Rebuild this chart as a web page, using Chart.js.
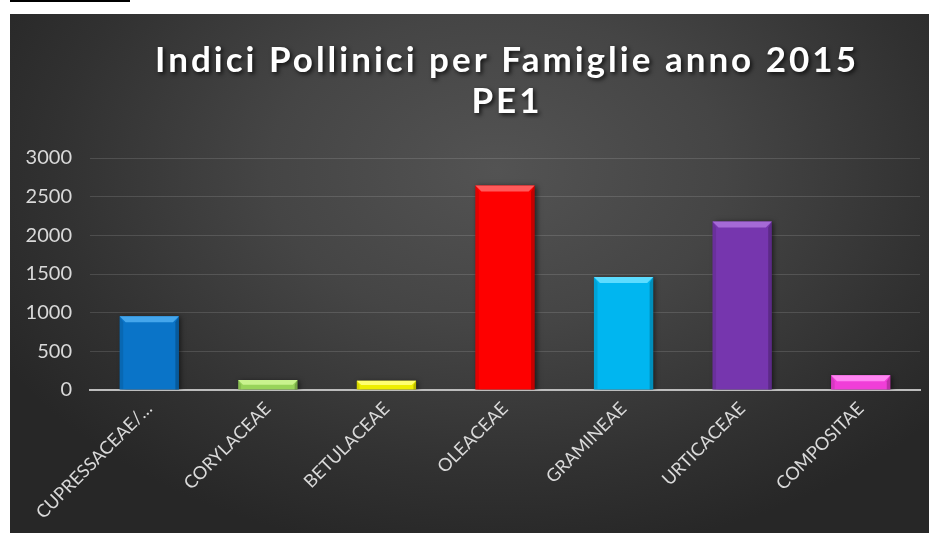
<!DOCTYPE html>
<html>
<head>
<meta charset="utf-8">
<script src="https://cdn.jsdelivr.net/npm/chart.js@4.4.1/dist/chart.umd.min.js"></script>
<style>
  html, body { margin: 0; padding: 0; background: #ffffff; }
  body { width: 929px; height: 533px; position: relative; overflow: hidden; }
  #rule { position: absolute; left: 10px; top: 0; width: 120px; height: 2px; background: #000; }
  #panel {
    position: absolute; left: 10px; top: 14px; width: 919px; height: 519px;
    background: radial-gradient(ellipse 62% 75% at 53% 30%, #535353 0%, #454545 40%, #313131 78%, #272727 100%);
  }
  #chart { position: absolute; left: 0; top: 0; }
</style>
</head>
<body>
<div id="rule"></div>
<div id="panel"><canvas id="chart" width="919" height="519"></canvas></div>
<script>
// Pollen index per plant family, station PE1, year 2015
const categories = ['CUPRESSACEAE/…', 'CORYLACEAE', 'BETULACEAE', 'OLEACEAE', 'GRAMINEAE', 'URTICACEAE', 'COMPOSITAE'];
const values = [955, 130, 120, 2645, 1460, 2180, 190];
const yTicks = [0, 500, 1000, 1500, 2000, 2500, 3000];
const titleLines = ['Indici Pollinici per Famiglie anno 2015', 'PE1'];

// fill colour and lighter bevel colour for each family
const barColors = ['#0a74c8', '#98d45a', '#eeee00', '#fe0000', '#00b6f0', '#7636ae', '#f03ed8'];
const bevelColors = ['#44a6ec', '#c9f38e', '#ffff70', '#ff5a5a', '#5cdcff', '#a56ad6', '#ff86f2'];

const FONT = 'Lato, "Open Sans", sans-serif';

// soft drop shadow under the bars
const barShadow = {
  id: 'barShadow',
  beforeDatasetsDraw(chart) {
    const ctx = chart.ctx;
    ctx.save();
    ctx.shadowColor = 'rgba(0,0,0,0.55)';
    ctx.shadowBlur = 5;
    ctx.shadowOffsetX = 2;
    ctx.shadowOffsetY = 1;
  },
  afterDatasetsDraw(chart) {
    chart.ctx.restore();
  }
};

// bevelled top edge and shaded sides of each bar
const barBevel = {
  id: 'barBevel',
  afterDatasetsDraw(chart) {
    const ctx = chart.ctx;
    const meta = chart.getDatasetMeta(0);
    meta.data.forEach((el, i) => {
      const p = el.getProps(['x', 'y', 'base', 'width'], true);
      const l = p.x - p.width / 2, r = p.x + p.width / 2;
      const h = p.base - p.y;
      const b = Math.min(6, h / 2);
      ctx.save();
      // top bevel
      ctx.fillStyle = bevelColors[i];
      ctx.beginPath();
      ctx.moveTo(l, p.y); ctx.lineTo(r, p.y); ctx.lineTo(r - b, p.y + b); ctx.lineTo(l + b, p.y + b);
      ctx.closePath(); ctx.fill();
      // left side
      ctx.fillStyle = 'rgba(0,0,0,0.10)';
      ctx.beginPath();
      ctx.moveTo(l, p.y); ctx.lineTo(l + b * 0.6, p.y + b); ctx.lineTo(l + b * 0.6, p.base); ctx.lineTo(l, p.base);
      ctx.closePath(); ctx.fill();
      // right side
      ctx.fillStyle = 'rgba(0,0,0,0.22)';
      ctx.beginPath();
      ctx.moveTo(r, p.y); ctx.lineTo(r - b * 0.6, p.y + b); ctx.lineTo(r - b * 0.6, p.base); ctx.lineTo(r, p.base);
      ctx.closePath(); ctx.fill();
      ctx.restore();
    });
  }
};

// two-line title centred over the plot area
const chartTitle = {
  id: 'chartTitle',
  afterDraw(chart) {
    const ctx = chart.ctx;
    const cx = (chart.chartArea.left + chart.chartArea.right) / 2;
    ctx.save();
    ctx.font = 'bold 35px ' + FONT;
    ctx.letterSpacing = '3px';
    ctx.textAlign = 'center';
    ctx.textBaseline = 'alphabetic';
    ctx.fillStyle = '#ffffff';
    ctx.shadowColor = 'rgba(0,0,0,0.75)';
    ctx.shadowBlur = 4;
    ctx.shadowOffsetX = 2;
    ctx.shadowOffsetY = 2;
    ctx.fillText(titleLines[0], cx + 2, 58);
    ctx.fillText(titleLines[1], cx + 2, 99);
    ctx.restore();
  }
};

new Chart(document.getElementById('chart'), {
  type: 'bar',
  data: {
    labels: categories,
    datasets: [{
      data: values,
      backgroundColor: barColors,
      borderWidth: 0,
      barPercentage: 0.5,
      categoryPercentage: 1.0
    }]
  },
  options: {
    responsive: false,
    devicePixelRatio: 1,
    animation: false,
    events: [],
    layout: { padding: { top: 144, right: 9, left: 0, bottom: 0 } },
    plugins: { legend: { display: false }, title: { display: false }, tooltip: { enabled: false } },
    scales: {
      x: {
        grid: { display: false },
        border: { color: '#bdbdbd', width: 2 },
        ticks: {
          color: '#d9d9d9',
          font: { family: FONT, size: 18 },
          minRotation: 45,
          maxRotation: 45,
          autoSkip: false,
          padding: 0
        },
        afterFit(scale) { scale.height = 143; }
      },
      y: {
        min: 0,
        max: 3000,
        afterBuildTicks(scale) { scale.ticks = yTicks.map(v => ({ value: v })); },
        grid: { color: 'rgba(255,255,255,0.13)', lineWidth: 1, drawTicks: false },
        border: { display: false },
        ticks: {
          color: '#d9d9d9',
          font: { family: FONT, size: 20 },
          padding: 18,
          callback: v => String(v)
        },
        afterFit(scale) { scale.width = 80; }
      }
    }
  },
  plugins: [barShadow, barBevel, chartTitle]
});
</script>
</body>
</html>
